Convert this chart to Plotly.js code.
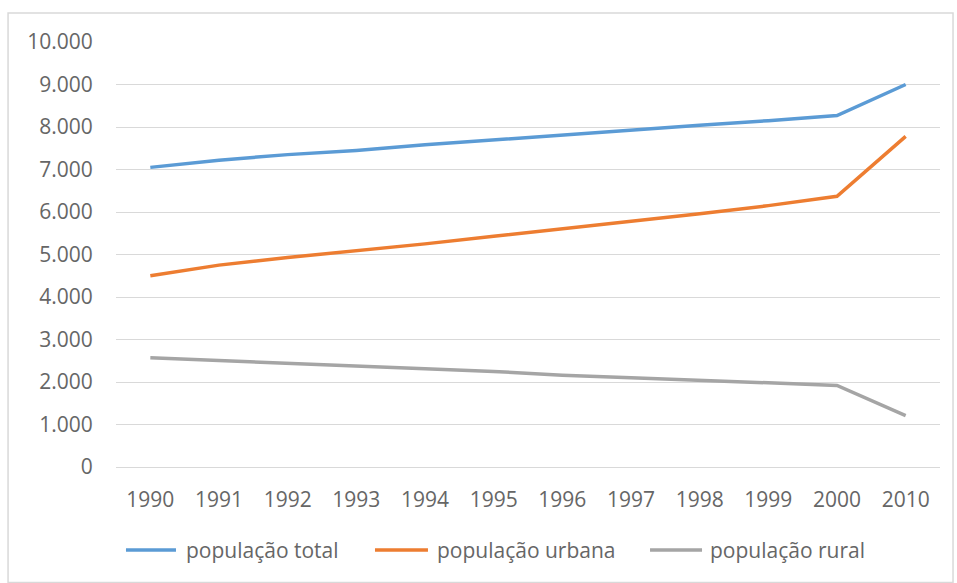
<!DOCTYPE html>
<html>
<head>
<meta charset="utf-8">
<script src="https://cdn.plot.ly/plotly-3.0.1.min.js"></script>
<style>html,body{margin:0;padding:0;background:#fff;}#chart{width:957px;height:583px;}</style>
</head>
<body>
<div id="chart"></div>
<script>
var years = ["1990","1991","1992","1993","1994","1995","1996","1997","1998","1999","2000","2010"];
var populacaoTotal = [7050, 7220, 7350, 7450, 7580, 7700, 7800, 7920, 8040, 8150, 8270, 9000];
var populacaoUrbana = [4500, 4750, 4930, 5080, 5250, 5430, 5600, 5780, 5960, 6150, 6370, 7780];
var populacaoRural = [2570, 2500, 2430, 2370, 2310, 2250, 2160, 2100, 2040, 1970, 1920, 1210];
var seriesNames = ["população total", "população urbana", "população rural"];
var seriesColors = ["#5b9bd5", "#ed7d31", "#a5a5a5"];
var yTicks = [0,1000,2000,3000,4000,5000,6000,7000,8000,9000,10000];

var allSeries = [populacaoTotal, populacaoUrbana, populacaoRural];
var traces = allSeries.map(function(vals, i){
  return {
    x: years, y: vals, type: "scatter", mode: "lines",
    name: seriesNames[i], showlegend: false,
    line: {color: seriesColors[i], width: 3.5}
  };
});

var font = {family: "Open Sans, sans-serif", size: 21, color: "#666666"};

// custom legend (Excel-style long line samples)
var legendY = -0.195;
var legendLineX = [[0.0121, 0.0728], [0.3143, 0.3786], [0.6481, 0.7112]];
var legendTextX = [0.0825, 0.3871, 0.7184];
var shapes = [{
  type: "rect", xref: "paper", yref: "paper",
  x0: -0.131, x1: 1.0158, y0: -0.272, y1: 1.068,
  line: {color: "#d9d9d9", width: 1.5}, fillcolor: "rgba(0,0,0,0)", layer: "below"
}];
var annotations = [];
seriesNames.forEach(function(n, i){
  shapes.push({type: "line", xref: "paper", yref: "paper",
    x0: legendLineX[i][0], x1: legendLineX[i][1], y0: legendY, y1: legendY,
    line: {color: seriesColors[i], width: 3.5}});
  annotations.push({xref: "paper", yref: "paper", x: legendTextX[i], y: legendY,
    xanchor: "left", yanchor: "middle", text: n, showarrow: false, font: font});
});

var layout = {
  width: 957, height: 583,
  margin: {l: 116, r: 17, t: 42, b: 116},
  paper_bgcolor: "#ffffff", plot_bgcolor: "#ffffff",
  separators: ",.",
  font: font,
  showlegend: false,
  xaxis: {
    type: "category", range: [-0.5, 11.5], showgrid: false, zeroline: false, showline: false,
    ticks: "outside", ticklen: 14, tickcolor: "rgba(0,0,0,0)",
    tickfont: font, fixedrange: true
  },
  yaxis: {
    range: [0, 10000], tickvals: yTicks, tickformat: ",d",
    showgrid: true, gridcolor: "#d9d9d9", gridwidth: 1,
    zeroline: true, zerolinecolor: "#d9d9d9", zerolinewidth: 1,
    showline: false,
    ticks: "outside", ticklen: 18, tickcolor: "rgba(0,0,0,0)",
    tickfont: font, fixedrange: true
  },
  shapes: shapes,
  annotations: annotations
};

Plotly.newPlot("chart", traces, layout, {displayModeBar: false, staticPlot: true});
</script>
</body>
</html>
